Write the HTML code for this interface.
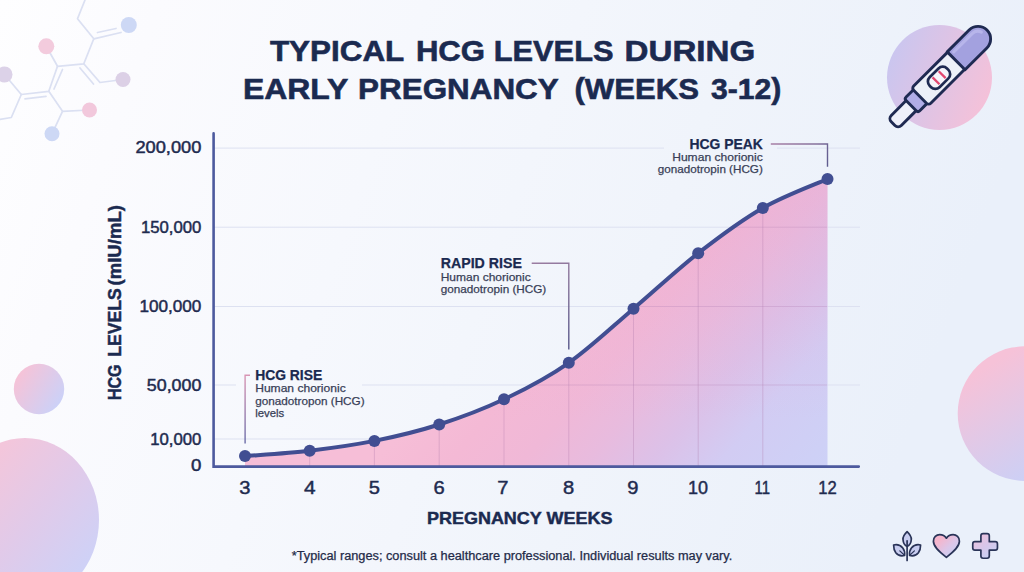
<!DOCTYPE html>
<html lang="en">
<head>
<meta charset="utf-8">
<title>Typical HCG Levels During Early Pregnancy (Weeks 3-12)</title>
<style>
  html, body { margin: 0; padding: 0; }
  body { width: 1024px; height: 572px; overflow: hidden; background: #f3f6fc; font-family: "Liberation Sans", sans-serif; }
  svg { display: block; font-family: "Liberation Sans", sans-serif; }
  .t-title { font-weight: 700; fill: #1b2a50; stroke: #1b2a50; stroke-width: 0.600; }
  .t-axis { font-weight: 700; fill: #1b2a50; stroke: #1b2a50; stroke-width: 0.450; }
  .t-tick { fill: #1f2b4f; stroke: #1f2b4f; stroke-width: 0.450; }
  .t-head { font-weight: 700; fill: #1b2a50; stroke: #1b2a50; stroke-width: 0.250; }
  .t-sub { fill: #393f58; stroke: #393f58; stroke-width: 0.250; }
  .t-foot { fill: #242b49; stroke: #242b49; stroke-width: 0.250; }
  .grid { stroke: #dde1f1; stroke-width: 1; fill: none; }
</style>
</head>
<body>
<svg width="1024" height="572" viewBox="0 0 1024 572">
  <defs>
    <linearGradient id="bg" x1="0" y1="0" x2="1" y2="0.200">
      <stop offset="0" stop-color="#fefeff"/>
      <stop offset="0.150" stop-color="#fbfbfe"/>
      <stop offset="0.400" stop-color="#f6f8fd"/>
      <stop offset="0.700" stop-color="#f0f4fb"/>
      <stop offset="1" stop-color="#eaf0fa"/>
    </linearGradient>
    <linearGradient id="area" gradientUnits="userSpaceOnUse" x1="560" y1="250" x2="840" y2="495">
      <stop offset="0" stop-color="#f6bed7"/>
      <stop offset="0.150" stop-color="#f4b9d5"/>
      <stop offset="0.300" stop-color="#f0b8d7"/>
      <stop offset="0.430" stop-color="#e8bbde"/>
      <stop offset="0.560" stop-color="#dcc1e8"/>
      <stop offset="0.700" stop-color="#d2ccf3"/>
      <stop offset="1" stop-color="#cbd3f8"/>
    </linearGradient>
    <linearGradient id="areaTop" gradientUnits="userSpaceOnUse" x1="0" y1="180" x2="0" y2="420">
      <stop offset="0" stop-color="#ec9cc6" stop-opacity="0.200"/>
      <stop offset="1" stop-color="#ec9cc6" stop-opacity="0"/>
    </linearGradient>
    <linearGradient id="pinkLav" x1="0.220" y1="0.050" x2="0.780" y2="0.950">
      <stop offset="0.080" stop-color="#f6c2d8"/>
      <stop offset="0.920" stop-color="#cbd0f6"/>
    </linearGradient>
    <linearGradient id="smallCirc" x1="0.050" y1="0.220" x2="0.950" y2="0.800">
      <stop offset="0.050" stop-color="#f5c3d8"/>
      <stop offset="0.950" stop-color="#ccd1f7"/>
    </linearGradient>
    <linearGradient id="bigCirc" gradientUnits="userSpaceOnUse" x1="-5" y1="455" x2="100" y2="545">
      <stop offset="0" stop-color="#f3c6db"/>
      <stop offset="0.500" stop-color="#e1cae9"/>
      <stop offset="1" stop-color="#cfd1f6"/>
    </linearGradient>
    <linearGradient id="iconGrad" x1="0.100" y1="0.150" x2="0.850" y2="0.850">
      <stop offset="0.150" stop-color="#f5b5cc"/>
      <stop offset="0.600" stop-color="#dcc6e8"/>
      <stop offset="0.950" stop-color="#cbcef2"/>
    </linearGradient>
    <linearGradient id="plusGrad" x1="0.150" y1="0.050" x2="0.750" y2="1">
      <stop offset="0.100" stop-color="#e9c2de"/>
      <stop offset="0.500" stop-color="#d8c7ea"/>
      <stop offset="0.950" stop-color="#c8d0f4"/>
    </linearGradient>
    <linearGradient id="lavPink" x1="0" y1="0.3" x2="1" y2="0.7">
      <stop offset="0" stop-color="#c9c6f0"/>
      <stop offset="1" stop-color="#f6c1d8"/>
    </linearGradient>
    <linearGradient id="conn1" gradientUnits="userSpaceOnUse" x1="0" y1="375" x2="0" y2="444">
      <stop offset="0" stop-color="#d995b4"/>
      <stop offset="1" stop-color="#6a6ca8"/>
    </linearGradient>
    <linearGradient id="conn2" gradientUnits="userSpaceOnUse" x1="531" y1="263" x2="569" y2="350">
      <stop offset="0" stop-color="#9b7da2"/>
      <stop offset="0.350" stop-color="#857399"/>
      <stop offset="1" stop-color="#565689"/>
    </linearGradient>
    <linearGradient id="conn3" gradientUnits="userSpaceOnUse" x1="770" y1="144" x2="828" y2="167">
      <stop offset="0" stop-color="#a980a6"/>
      <stop offset="0.700" stop-color="#85709b"/>
      <stop offset="1" stop-color="#5c5a8e"/>
    </linearGradient>
  </defs>

  <!-- background -->
  <rect x="0" y="0" width="1024" height="572" fill="url(#bg)"/>

  <!-- decorative circles -->
  <circle cx="39" cy="389" r="25.200" fill="url(#smallCirc)"/>
  <ellipse cx="25" cy="520" rx="74" ry="82" fill="url(#bigCirc)"/>
  <circle cx="1025" cy="413.600" r="67.300" fill="url(#pinkLav)"/>
  <circle cx="939.5" cy="77.5" r="52.5" fill="url(#lavPink)"/>

  <!-- molecule decoration -->
  <g id="molecule" fill="none" stroke="#dbe0f2" stroke-width="1.750" stroke-linecap="round" stroke-linejoin="round">
    <path d="M85 0 L77.5 18.8 L93.8 38.8 L121 32.5"/>
    <path d="M97.5 32.5 L116 28.5"/>
    <path d="M93.8 38.8 L83.8 63.8 L57.5 66.3 L46.3 46.3"/>
    <path d="M83.8 63.8 L100 82.5 L123 79.5"/>
    <path d="M80 68 L93.5 84"/>
    <path d="M57.5 66.3 L48.8 91.3 L21.3 94.5 L4.5 74.5"/>
    <path d="M62.5 69.5 L54 89"/>
    <path d="M46 96.3 L25 98.8"/>
    <path d="M21.3 94.5 L11.3 117.5 L0 119.5"/>
    <path d="M48.8 91.3 L62.5 111.3 L89.5 110"/>
    <path d="M62.5 111.3 L52 133.8"/>
  </g>
  <g id="atoms" stroke="none">
    <circle cx="128.8" cy="25" r="8" fill="#cdd8f5"/>
    <circle cx="46.3" cy="46.3" r="8" fill="#f3cbdd"/>
    <circle cx="4.5" cy="74.5" r="8" fill="#dcd2e8"/>
    <circle cx="123" cy="79.5" r="7.5" fill="#dcd0e6"/>
    <circle cx="89.5" cy="110" r="7.5" fill="#f2c8dc"/>
    <circle cx="52" cy="133.8" r="7.5" fill="#cdd8f5"/>
  </g>

  <!-- title -->
  <g class="t-title" font-size="30" text-anchor="middle">
    <text id="w1" x="337.100" y="61.300" textLength="134.412" lengthAdjust="spacingAndGlyphs">TYPICAL</text>
    <text id="w2" x="450.500" y="61.300" textLength="69.189" lengthAdjust="spacingAndGlyphs">HCG</text>
    <text id="w3" x="553.600" y="61.300" textLength="119.816" lengthAdjust="spacingAndGlyphs">LEVELS</text>
    <text id="w4" x="689.900" y="61.300" textLength="130.700" lengthAdjust="spacingAndGlyphs">DURING</text>
    <text id="w5" x="295.600" y="98.700" textLength="105.296" lengthAdjust="spacingAndGlyphs">EARLY</text>
    <text id="w6" x="458.400" y="98.700" textLength="200.599" lengthAdjust="spacingAndGlyphs">PREGNANCY</text>
    <text id="w7" x="636.700" y="98.700" textLength="124.421" lengthAdjust="spacingAndGlyphs">(WEEKS</text>
    <text id="w8" x="746.200" y="98.700" textLength="70.323" lengthAdjust="spacingAndGlyphs">3-12)</text>
  </g>

  <!-- horizontal gridlines -->
  <g class="grid">
    <path d="M214 148.100 H664 M777 148.100 H860"/>
    <path d="M214 227.200 H860"/>
    <path d="M214 306.500 H860"/>
    <path d="M214 385 H236 M362 385 H860"/>
    <path d="M214 439 H390"/>
  </g>

  <!-- area fill -->
  <path id="areaFill" fill="url(#area)" d="M245.000 456.100 C255.783 455.200 288.133 453.233 309.700 450.700 C331.267 448.167 352.817 445.267 374.400 440.900 C395.983 436.533 417.600 431.433 439.200 424.500 C460.800 417.567 482.400 409.583 504.000 399.300 C525.600 389.017 547.217 377.900 568.800 362.800 C590.383 347.700 611.933 326.967 633.500 308.700 C655.067 290.433 676.650 269.983 698.200 253.200 C719.750 236.417 741.250 220.367 762.800 208.000 C784.350 195.633 816.717 183.833 827.500 179.000 L827.500 466 L245 466 Z"/>
  <path fill="url(#areaTop)" d="M245.000 456.100 C255.783 455.200 288.133 453.233 309.700 450.700 C331.267 448.167 352.817 445.267 374.400 440.900 C395.983 436.533 417.600 431.433 439.200 424.500 C460.800 417.567 482.400 409.583 504.000 399.300 C525.600 389.017 547.217 377.900 568.800 362.800 C590.383 347.700 611.933 326.967 633.500 308.700 C655.067 290.433 676.650 269.983 698.200 253.200 C719.750 236.417 741.250 220.367 762.800 208.000 C784.350 195.633 816.717 183.833 827.500 179.000 L827.500 466 L245 466 Z"/>

  <!-- vertical gridlines (inside fill) -->
  <g stroke="#b07aae" stroke-opacity="0.340" stroke-width="1" fill="none">
    <path d="M309.700 450.700 V466"/>
    <path d="M374.400 440.900 V466"/>
    <path d="M439.200 424.500 V466"/>
    <path d="M504.000 399.300 V466"/>
    <path d="M568.800 362.800 V466"/>
    <path d="M633.500 308.700 V466"/>
    <path d="M698.200 253.200 V466"/>
    <path d="M762.800 208.000 V466"/>
  </g>
  <!-- horizontal gridlines over fill (subtle) -->
  <g stroke="#b584b6" stroke-opacity="0.320" stroke-width="1" fill="none">
    <path d="M636 306.500 H827"/>
    <path d="M530 385 H827"/>
    <path d="M733 227.200 H827"/>
  </g>

  <!-- curve -->
  <path id="curve" fill="none" stroke="#414e92" stroke-width="4" stroke-linecap="round" stroke-linejoin="round" d="M245.000 456.100 C255.783 455.200 288.133 453.233 309.700 450.700 C331.267 448.167 352.817 445.267 374.400 440.900 C395.983 436.533 417.600 431.433 439.200 424.500 C460.800 417.567 482.400 409.583 504.000 399.300 C525.600 389.017 547.217 377.900 568.800 362.800 C590.383 347.700 611.933 326.967 633.500 308.700 C655.067 290.433 676.650 269.983 698.200 253.200 C719.750 236.417 741.250 220.367 762.800 208.000 C784.350 195.633 816.717 183.833 827.500 179.000"/>

  <!-- axes -->
  <path d="M213.600 133.400 V466.600 H858.800" fill="none" stroke="#4d5a9e" stroke-width="2.600" stroke-linecap="round" stroke-linejoin="miter"/>

  <!-- data points -->
  <g fill="#414e92">
    <circle cx="245.000" cy="456.100" r="6"/>
    <circle cx="309.700" cy="450.700" r="6"/>
    <circle cx="374.400" cy="440.900" r="6"/>
    <circle cx="439.200" cy="424.500" r="6"/>
    <circle cx="504.000" cy="399.300" r="6"/>
    <circle cx="568.800" cy="362.800" r="6"/>
    <circle cx="633.500" cy="308.700" r="6"/>
    <circle cx="698.200" cy="253.200" r="6"/>
    <circle cx="762.800" cy="208.000" r="6"/>
    <circle cx="827.500" cy="179.000" r="6"/>
  </g>

  <!-- y tick labels -->
  <g class="t-tick" font-size="15.600" text-anchor="end" lengthAdjust="spacingAndGlyphs">
    <text x="201.400" y="153.400" textLength="66" lengthAdjust="spacingAndGlyphs">200,000</text>
    <text x="201.400" y="232.700" textLength="60.500" lengthAdjust="spacingAndGlyphs">150,000</text>
    <text x="201.400" y="312" textLength="62" lengthAdjust="spacingAndGlyphs">100,000</text>
    <text x="201.400" y="390.800" textLength="54.600" lengthAdjust="spacingAndGlyphs">50,000</text>
    <text x="201.400" y="444.700" textLength="51.200" lengthAdjust="spacingAndGlyphs">10,000</text>
    <text x="201.500" y="471.100" textLength="10.400" lengthAdjust="spacingAndGlyphs">0</text>
  </g>

  <!-- x tick labels -->
  <g class="t-tick" font-size="18.200" text-anchor="middle">
    <text x="244.800" y="493.900" textLength="11.200" lengthAdjust="spacingAndGlyphs">3</text>
    <text x="309.900" y="493.900" textLength="11.600" lengthAdjust="spacingAndGlyphs">4</text>
    <text x="374.300" y="493.900" textLength="11.200" lengthAdjust="spacingAndGlyphs">5</text>
    <text x="439" y="493.900" textLength="11.200" lengthAdjust="spacingAndGlyphs">6</text>
    <text x="502.800" y="493.900" textLength="11.200" lengthAdjust="spacingAndGlyphs">7</text>
    <text x="568.500" y="493.900" textLength="11.200" lengthAdjust="spacingAndGlyphs">8</text>
    <text x="632.900" y="493.900" textLength="11.200" lengthAdjust="spacingAndGlyphs">9</text>
    <text x="698" y="493.900" textLength="20" lengthAdjust="spacingAndGlyphs">10</text>
    <text x="762.300" y="493.900" textLength="15.500" lengthAdjust="spacingAndGlyphs">11</text>
    <text x="827.400" y="493.900" textLength="18.500" lengthAdjust="spacingAndGlyphs">12</text>
  </g>

  <!-- axis titles -->
  <text class="t-axis" x="519.700" y="523.700" font-size="17" text-anchor="middle" textLength="185.500" lengthAdjust="spacingAndGlyphs">PREGNANCY WEEKS</text>
  <g class="t-axis" font-size="17.600" text-anchor="middle">
    <text id="v1" transform="translate(120.700 382.300) rotate(-90)" textLength="35.500" lengthAdjust="spacingAndGlyphs">HCG</text>
    <text id="v2" transform="translate(120.700 322.600) rotate(-90)" textLength="68.500" lengthAdjust="spacingAndGlyphs">LEVELS</text>
    <text id="v3" transform="translate(120.700 245.300) rotate(-90)" textLength="80.500" lengthAdjust="spacingAndGlyphs">(mIU/mL)</text>
  </g>

  <!-- footnote -->
  <text class="t-foot" x="512" y="560" font-size="12" text-anchor="middle" textLength="440.500" lengthAdjust="spacingAndGlyphs">*Typical ranges; consult a healthcare professional. Individual results may vary.</text>

  <!-- callout: HCG RISE -->
  <path d="M250 375.200 H245.100 V443.500" fill="none" stroke="url(#conn1)" stroke-width="1.400"/>
  <text class="t-head" x="255.200" y="379.800" font-size="14" textLength="67" lengthAdjust="spacingAndGlyphs">HCG RISE</text>
  <text class="t-sub" x="255.200" y="392.400" font-size="11.200" textLength="90.500" lengthAdjust="spacingAndGlyphs">Human chorionic</text>
  <text class="t-sub" x="255.200" y="404.700" font-size="11.200" textLength="109.400" lengthAdjust="spacingAndGlyphs">gonadotropon (HCG)</text>
  <text class="t-sub" x="255.200" y="417" font-size="11.200" textLength="29" lengthAdjust="spacingAndGlyphs">levels</text>

  <!-- callout: RAPID RISE -->
  <path d="M531.700 263.300 H568.800 V349.500" fill="none" stroke="url(#conn2)" stroke-width="1.400"/>
  <text class="t-head" x="440.700" y="267.800" font-size="14" textLength="81.200" lengthAdjust="spacingAndGlyphs">RAPID RISE</text>
  <text class="t-sub" x="440.700" y="280.500" font-size="11.200" textLength="90" lengthAdjust="spacingAndGlyphs">Human chorionic</text>
  <text class="t-sub" x="440.700" y="293" font-size="11.200" textLength="105.600" lengthAdjust="spacingAndGlyphs">gonadotropin (HCG)</text>

  <!-- callout: HCG PEAK -->
  <path d="M770.800 144 H827.500 V166.700" fill="none" stroke="url(#conn3)" stroke-width="1.400"/>
  <text class="t-head" x="762.800" y="148.500" font-size="14" text-anchor="end" textLength="73.400" lengthAdjust="spacingAndGlyphs">HCG PEAK</text>
  <text class="t-sub" x="762.800" y="160.800" font-size="11.200" text-anchor="end" textLength="90.600" lengthAdjust="spacingAndGlyphs">Human chorionic</text>
  <text class="t-sub" x="762.800" y="172.700" font-size="11.200" text-anchor="end" textLength="105" lengthAdjust="spacingAndGlyphs">gonadotropin (HCG)</text>

  <!-- pregnancy test icon -->
  <g id="test" transform="translate(892.100 124.600) rotate(-44.900)" stroke="#1f2a52" stroke-width="2.900" stroke-linejoin="round">
    <rect x="1.400" y="-7.100" width="30" height="14.200" rx="4.500" fill="#eef0fa"/>
    <rect x="26.900" y="-9.700" width="13.600" height="19.400" rx="2.500" fill="#b1ade6"/>
    <rect x="39.500" y="-12.100" width="54" height="24.200" rx="3" fill="#edf0f8"/>
    <path d="M90.400 -12.600 H121.300 A12.600 12.600 0 0 1 121.300 12.600 H90.400 Z" fill="#a3a1df"/>
    <path d="M95 -8 H121 A8 8 0 0 1 128.500 -2.500" fill="none" stroke="#b7b5ea" stroke-width="3.200" stroke-linecap="round"/>
    <rect x="54" y="-7" width="24.500" height="14" rx="6" fill="#f6f4fb" stroke-width="2.700"/>
    <path d="M62 -4.900 V4.900 M70.700 -4.900 V4.900" stroke="#e2476f" stroke-width="2.300" stroke-linecap="butt"/>
  </g>

  <!-- footer icons -->
  <g id="icons" stroke="#2a3458" stroke-width="1.700" stroke-linejoin="round" stroke-linecap="round">
    <!-- sprout -->
    <path d="M907.100 531.600 C904.600 534 902.800 537 903 539.500 C903.200 543 905.200 545.600 907.100 546.500 C909 545.600 911.100 543 911.300 539.500 C911.500 537 909.600 534 907.100 531.600 Z" fill="#c8cdf0"/>
    <path d="M907.100 540.800 V560.400" fill="none"/>
    <path d="M893.600 545 C896.500 544.300 900.500 545.200 902.800 548 C904.400 550 904.900 553 904.600 555.500 C901.500 556.200 897.800 555.400 895.800 552.800 C894.200 550.600 893.600 547.600 893.600 545 Z" fill="#c8cdf0"/>
    <path d="M920.600 545 C917.700 544.300 913.700 545.200 911.400 548 C909.800 550 909.300 553 909.600 555.500 C912.700 556.200 916.400 555.400 918.400 552.800 C920 550.600 920.600 547.600 920.600 545 Z" fill="#c8cdf0"/>
    <path d="M904.200 555 L899.800 550.900 M910 555 L914.400 550.900" fill="none" stroke-width="1.200"/>
    <!-- heart -->
    <path d="M946.400 557.300 C938.500 551.200 933.400 546.500 933.400 541.200 C933.400 537.200 936.300 534.600 939.700 534.600 C942.600 534.600 945 536 946.400 538.200 C947.800 536 950.200 534.600 953.100 534.600 C956.500 534.600 959.400 537.200 959.400 541.200 C959.400 546.500 954.300 551.200 946.400 557.300 Z" fill="url(#iconGrad)"/>
    <!-- plus -->
    <path d="M983.100 533.550 H987.100 Q989.300 533.550 989.300 535.750 V541.700 H995.250 Q997.450 541.700 997.450 543.900 V547.900 Q997.450 550.100 995.250 550.100 H989.300 V556.050 Q989.300 558.250 987.100 558.250 H983.100 Q980.900 558.250 980.900 556.050 V550.100 H974.950 Q972.750 550.100 972.750 547.900 V543.900 Q972.750 541.700 974.950 541.700 H980.900 V535.750 Q980.900 533.550 983.100 533.550 Z" fill="url(#plusGrad)"/>
  </g>
</svg>
</body>
</html>
